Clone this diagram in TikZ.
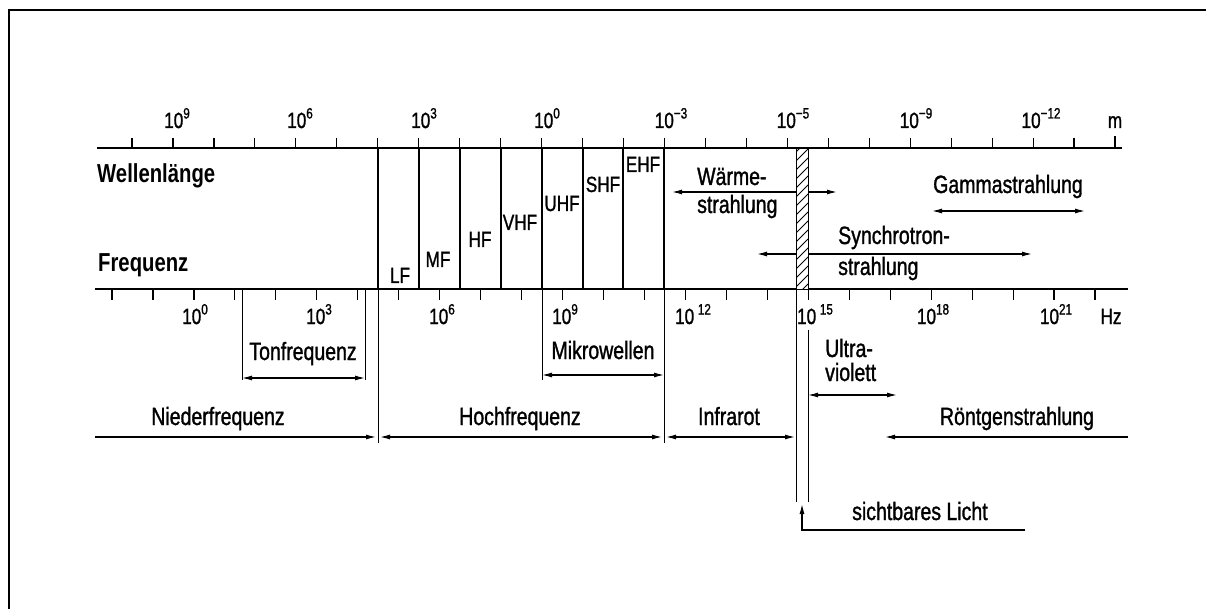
\documentclass[tikz,border=0pt]{standalone}
\usepackage{fontspec}
\setmainfont{Liberation Sans}[FakeStretch=0.78, UprightFeatures={FakeBold=1.2}]
\usetikzlibrary{arrows.meta}
\newcommand{\expo}[1]{\raisebox{9.5pt}{\fontsize{15}{15}\selectfont #1}}

\begin{document}
\begin{tikzpicture}[
        x=1pt, y=-1pt,
        >={Latex[length=10pt,width=5pt]},
        every node/.style={
            font=\fontsize{25}{28}\selectfont,
            inner sep=0pt
        },
        axisline/.style={line width=1.5pt},
        tickline/.style={line width=1.2pt},
        guide/.style={line width=0.9pt},
        rangeline/.style={line width=1.2pt},
        bandline/.style={line width=1.6pt},
        scalelabel/.style={font=\fontsize{22}{24}\selectfont, anchor=base},
        bandlabel/.style={font=\fontsize{22}{24}\selectfont, anchor=base},
        axistitle/.style={font=\bfseries\fontsize{26}{28}\selectfont, anchor=base west}
    ]
        \useasboundingbox (0,0) rectangle (1206,609);

        % Frame
        \draw[line width=2.5pt] (9,609) -- (9,10) -- (1206,10);

        % Wellenlaenge axis
        \coordinate (wl west) at (97,148);
        \coordinate (wl east) at (1122,148);
        \draw[axisline] (wl west) -- (wl east);
        \foreach \k in {0,...,24}
            \draw[tickline] ({132+40.96*\k},148) -- ++(0,-10);
        \draw[line width=2pt] (1115,148) -- ++(0,-12);

        \node[scalelabel] (wl9) at (177,128) {10\expo{9}};
        \node[scalelabel] (wl6) at (300,128) {10\expo{6}};
        \node[scalelabel] (wl3) at (424,128) {10\expo{3}};
        \node[scalelabel] (wl0) at (547,128) {10\expo{0}};
        \node[scalelabel] (wlm3) at (671,128) {10\expo{−3}};
        \node[scalelabel] (wlm5) at (793,128) {10\expo{−5}};
        \node[scalelabel] (wlm9) at (916,128) {10\expo{−9}};
        \node[scalelabel] (wlm12) at (1041,128) {10\expo{−12}};
        \node[scalelabel] (wlunit) at (1115,128) {m};

        % Frequenz axis
        \coordinate (fq west) at (95,289);
        \coordinate (fq east) at (1128,289);
        \draw[axisline] (fq west) -- (fq east);
        \foreach \k in {0,...,24}
            \draw[tickline] ({112+40.96*\k},289) -- ++(0,11);

        \node[scalelabel] (fq0) at (195,324) {10\expo{0}};
        \node[scalelabel] (fq3) at (319,324) {10\expo{3}};
        \node[scalelabel] (fq6) at (442,324) {10\expo{6}};
        \node[scalelabel] (fq9) at (565,324) {10\expo{9}};
        \node[scalelabel] (fq12) at (693,324) {10\,\expo{12}};
        \node[scalelabel] (fq15) at (815,324) {10\,\expo{15}};
        \node[scalelabel] (fq18) at (933,324) {10\expo{18}};
        \node[scalelabel] (fq21) at (1056,324) {10\expo{21}};
        \node[scalelabel] (fqunit) at (1111,324) {Hz};

        \node[axistitle] (wellenlaenge) at (97,183) {Wellenlänge};
        \node[axistitle] (frequenz) at (98,272) {Frequenz};

        % Frequency bands
        \draw[line width=2.6pt] (378,148) rectangle (664,289);
        \foreach \x in {419,460,501,542,583,623}
            \draw[bandline] (\x,148) -- (\x,289);

        \node[bandlabel] (lf) at (400,283) {LF};
        \node[bandlabel] (mf) at (438,267) {MF};
        \node[bandlabel] (hf) at (480,247) {HF};
        \node[bandlabel] (vhf) at (520,230) {VHF};
        \node[bandlabel] (uhf) at (562,211) {UHF};
        \node[bandlabel] (shf) at (603,192) {SHF};
        \node[bandlabel] (ehf) at (643,172) {EHF};

        % Upper ranges
        \coordinate (wr west) at (672,192);
        \coordinate (wr east) at (837,192);
        \coordinate (sy west) at (757,254);
        \coordinate (sy east) at (1032,254);
        \coordinate (ga west) at (932,211);
        \coordinate (ga east) at (1085,211);
        \draw[rangeline, <->] (wr west) -- (wr east);
        \draw[rangeline, <->] (sy west) -- (sy east);
        \draw[rangeline, <->] (ga west) -- (ga east);

        \node[anchor=base west] (waerme) at (697,185) {Wärme-};
        \node[anchor=base west] (waerme2) at (697,213) {strahlung};
        \node[anchor=base west] (synchro) at (838,244) {Synchrotron-};
        \node[anchor=base west] (synchro2) at (838,275) {strahlung};
        \node[anchor=base] (gamma) at (1008,193) {Gammastrahlung};

        % Visible light strip
        \fill[white] (796,148) rectangle (808,289);
        \begin{scope}
            \clip (796,148) rectangle (808,289);
            \foreach \y in {152,161,...,310}
                \draw[guide] (796,\y) -- ++(12,-12);
        \end{scope}
        \draw[guide] (796,148) rectangle (808,289);

        % Lower ranges
        \coordinate (ton west) at (242,378);
        \coordinate (ton east) at (365,378);
        \coordinate (mw west) at (542,375);
        \coordinate (mw east) at (664,375);
        \draw[guide] (242,289) -- (242,380);
        \draw[guide] (365,289) -- (365,380);
        \draw[guide] (542,289) -- (542,380);
        \draw[guide] (378,289) -- (378,443);
        \draw[guide] (664,289) -- (664,443);
        \draw[guide] (796,289) -- (796,502);
        \draw[guide] (808,330) -- (808,502);
        \draw[rangeline, <->] (ton west) -- (ton east);
        \draw[rangeline, <->] (mw west) -- (mw east);

        \node[anchor=base] (tonfrequenz) at (303,360) {Tonfrequenz};
        \node[anchor=base] (mikrowellen) at (603,359) {Mikrowellen};
        \node[anchor=base west] (ultra) at (825,357) {Ultra-};
        \node[anchor=base west] (ultra2) at (825,381) {violett};

        \coordinate (uv west) at (808,395);
        \coordinate (uv east) at (897,395);
        \draw[rangeline, <->] (uv west) -- (uv east);

        \coordinate (nf west) at (95,437);
        \coordinate (nf east) at (376,437);
        \coordinate (hf west) at (380,437);
        \coordinate (hf east) at (662,437);
        \coordinate (ir west) at (666,437);
        \coordinate (ir east) at (795,437);
        \coordinate (rg west) at (885,437);
        \coordinate (rg east) at (1128,437);
        \draw[rangeline, ->] (nf west) -- (nf east);
        \draw[rangeline, <->] (hf west) -- (hf east);
        \draw[rangeline, <->] (ir west) -- (ir east);
        \draw[rangeline, <-] (rg west) -- (rg east);

        \node[anchor=base] (nieder) at (218,425) {Niederfrequenz};
        \node[anchor=base] (hoch) at (520,425) {Hochfrequenz};
        \node[anchor=base] (infrarot) at (729,425) {Infrarot};
        \node[anchor=base] (roentgen) at (1017,425) {Röntgenstrahlung};

        % Sichtbares Licht
        \coordinate (sl tip) at (802,504);
        \coordinate (sl corner) at (802,530);
        \coordinate (sl end) at (1025,530);
        \draw[rangeline, ->] (sl end) -- (sl corner) -- (sl tip);
        \node[anchor=base west] (licht) at (852,520) {sichtbares Licht};

    \end{tikzpicture}
\end{document}
